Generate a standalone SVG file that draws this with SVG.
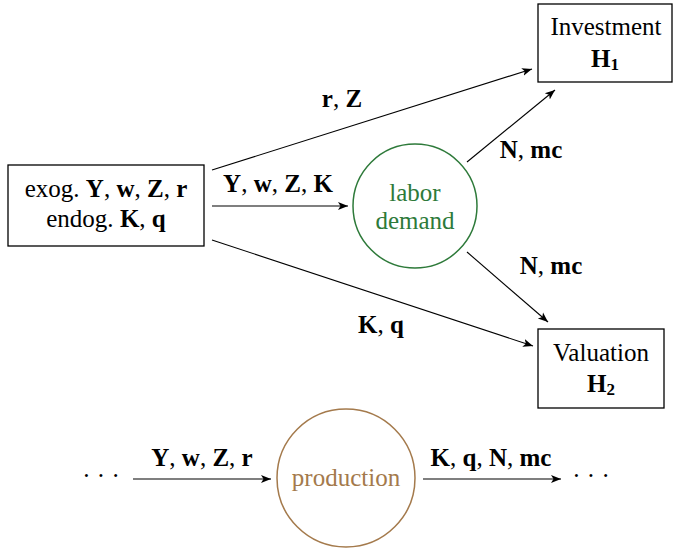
<svg xmlns="http://www.w3.org/2000/svg" width="673" height="554" viewBox="0 0 673 554" font-family="'Liberation Serif', 'DejaVu Serif', serif">
<defs>
<marker id="arr" markerUnits="userSpaceOnUse" markerWidth="12" markerHeight="10" refX="10" refY="5" orient="auto">
<path d="M0,1 L10,5 L0,9 L2.5,5 Z" fill="#000"/>
</marker>
<style>
text{font-family:'Liberation Serif','DejaVu Serif',serif;font-size:25px;fill:#000}
.b{font-weight:bold}
.sub{font-size:17px;font-weight:bold}
.box{fill:#fff;stroke:#000;stroke-width:1.3}
.edge{stroke:#000;stroke-width:1.1;fill:none;marker-end:url(#arr)}
.lab{text-anchor:middle}
</style>
</defs>
<rect width="673" height="554" fill="#fff"/>
<g id="connectors">
<line class="edge" x1="212" y1="170" x2="532" y2="69"/>
<line class="edge" x1="212" y1="206" x2="348" y2="206"/>
<line class="edge" x1="212" y1="240" x2="533" y2="346"/>
<line class="edge" x1="467" y1="162" x2="555" y2="90"/>
<line class="edge" x1="467" y1="252" x2="548" y2="322"/>
<line class="edge" x1="133" y1="479" x2="271" y2="479"/>
<line class="edge" x1="423" y1="479" x2="561" y2="479"/>
<text class="lab" x="342" y="107"><tspan class="b">r</tspan>, <tspan class="b">Z</tspan></text>
<text class="lab" x="278" y="192"><tspan class="b">Y</tspan>, <tspan class="b">w</tspan>, <tspan class="b">Z</tspan>, <tspan class="b">K</tspan></text>
<text class="lab" x="381" y="333"><tspan class="b">K</tspan>, <tspan class="b">q</tspan></text>
<text class="lab" x="531" y="158"><tspan class="b">N</tspan>, <tspan class="b">mc</tspan></text>
<text class="lab" x="551" y="274"><tspan class="b">N</tspan>, <tspan class="b">mc</tspan></text>
<text class="lab" x="202" y="466"><tspan class="b">Y</tspan>, <tspan class="b">w</tspan>, <tspan class="b">Z</tspan>, <tspan class="b">r</tspan></text>
<text class="lab" x="491" y="466"><tspan class="b">K</tspan>, <tspan class="b">q</tspan>, <tspan class="b">N</tspan>, <tspan class="b">mc</tspan></text>
<text class="lab" x="101" y="484">· · ·</text>
<text class="lab" x="591" y="484">· · ·</text>
</g>
<g id="inputs">
<rect class="box" x="8" y="165" width="196" height="81"/>
<text class="lab" x="106" y="197">exog. <tspan class="b">Y</tspan>, <tspan class="b">w</tspan>, <tspan class="b">Z</tspan>, <tspan class="b">r</tspan></text>
<text class="lab" x="106" y="227">endog. <tspan class="b">K</tspan>, <tspan class="b">q</tspan></text>
</g>
<g id="investment">
<rect class="box" x="538" y="4" width="134" height="78"/>
<text class="lab" x="606" y="35">Investment</text>
<text class="lab" x="605" y="67"><tspan class="b">H</tspan><tspan class="sub" dy="3">1</tspan></text>
</g>
<g id="valuation">
<rect class="box" x="538" y="329" width="126" height="79"/>
<text class="lab" x="601" y="361">Valuation</text>
<text class="lab" x="601" y="392"><tspan class="b">H</tspan><tspan class="sub" dy="3">2</tspan></text>
</g>
<g id="labor-demand">
<circle cx="415" cy="206" r="62" fill="none" stroke="#2e7a3a" stroke-width="1.5"/>
<text class="lab" x="415" y="201" style="fill:#2e7a3a">labor</text>
<text class="lab" x="415" y="229" style="fill:#2e7a3a">demand</text>
</g>
<g id="production">
<circle cx="346" cy="478" r="69" fill="none" stroke="#a47a4c" stroke-width="1.5"/>
<text class="lab" x="346" y="486" style="fill:#a47a4c">production</text>
</g>
</svg>
